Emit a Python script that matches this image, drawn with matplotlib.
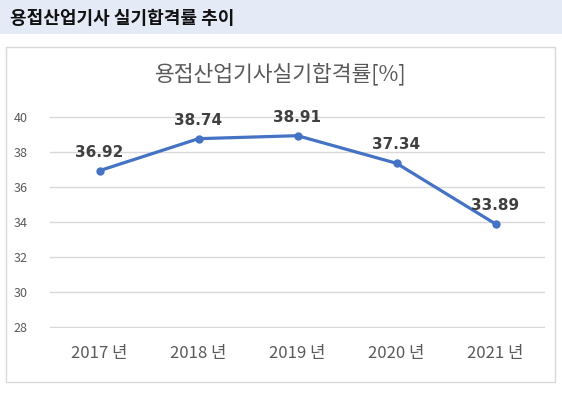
import matplotlib.pyplot as plt
import matplotlib.patches as mpatches

plt.rcParams['font.family'] = ['Noto Sans CJK KR', 'DejaVu Sans']

years = ['2017 년', '2018 년', '2019 년', '2020 년', '2021 년']
rates = [36.92, 38.74, 38.91, 37.34, 33.89]
yticks = [28, 30, 32, 34, 36, 38, 40]

fig = plt.figure(figsize=(5.62, 3.94), dpi=100)

# header band
fig.patches.append(mpatches.Rectangle((0, 1 - 34 / 394), 1, 34 / 394, transform=fig.transFigure,
                                      facecolor='#e4eaf6', edgecolor='none', zorder=0))
fig.text(10 / 562, 1 - 18 / 394, '용접산업기사 실기합격률 추이', fontsize=13, fontweight='bold',
         color='#111111', va='center', ha='left')

# chart frame
fig.patches.append(mpatches.Rectangle((6 / 562, 1 - 382 / 394), 549 / 562, 335 / 394,
                                      transform=fig.transFigure, facecolor='white',
                                      edgecolor='#d9d9d9', linewidth=1, zorder=0))
fig.text(281 / 562, 1 - 74 / 394, '용접산업기사실기합격률[%]', fontsize=15.5, color='#595959',
         ha='center', va='center')

ax = fig.add_axes([50 / 562, 1 - 328 / 394, 495 / 562, 212 / 394])
ax.set_zorder(2)
ax.set_facecolor('none')
x = list(range(len(years)))
ax.plot(x, rates, color='#4472c4', linewidth=2.3, marker='o', markersize=5, zorder=3)
for xi, v in zip(x, rates):
    ax.annotate('%.2f' % v, (xi, v), xytext=(0, 8), textcoords='offset points',
                ha='center', va='bottom', fontsize=11, fontweight='bold', color='#404040',
                family='DejaVu Sans')

ax.set_xlim(-0.5, len(years) - 0.5)
ax.set_ylim(27.97, 40.03)
ax.set_yticks(yticks)
ax.set_xticks(x)
ax.set_xticklabels(years)
ax.grid(axis='y', color='#d9d9d9', linewidth=1)
ax.set_axisbelow(True)
for s in ax.spines.values():
    s.set_visible(False)
ax.tick_params(axis='y', length=0, pad=16, labelsize=9, labelcolor='#595959')
ax.tick_params(axis='x', length=0, pad=12, labelsize=12, labelcolor='#595959')

fig.savefig('out.png', dpi=100)
